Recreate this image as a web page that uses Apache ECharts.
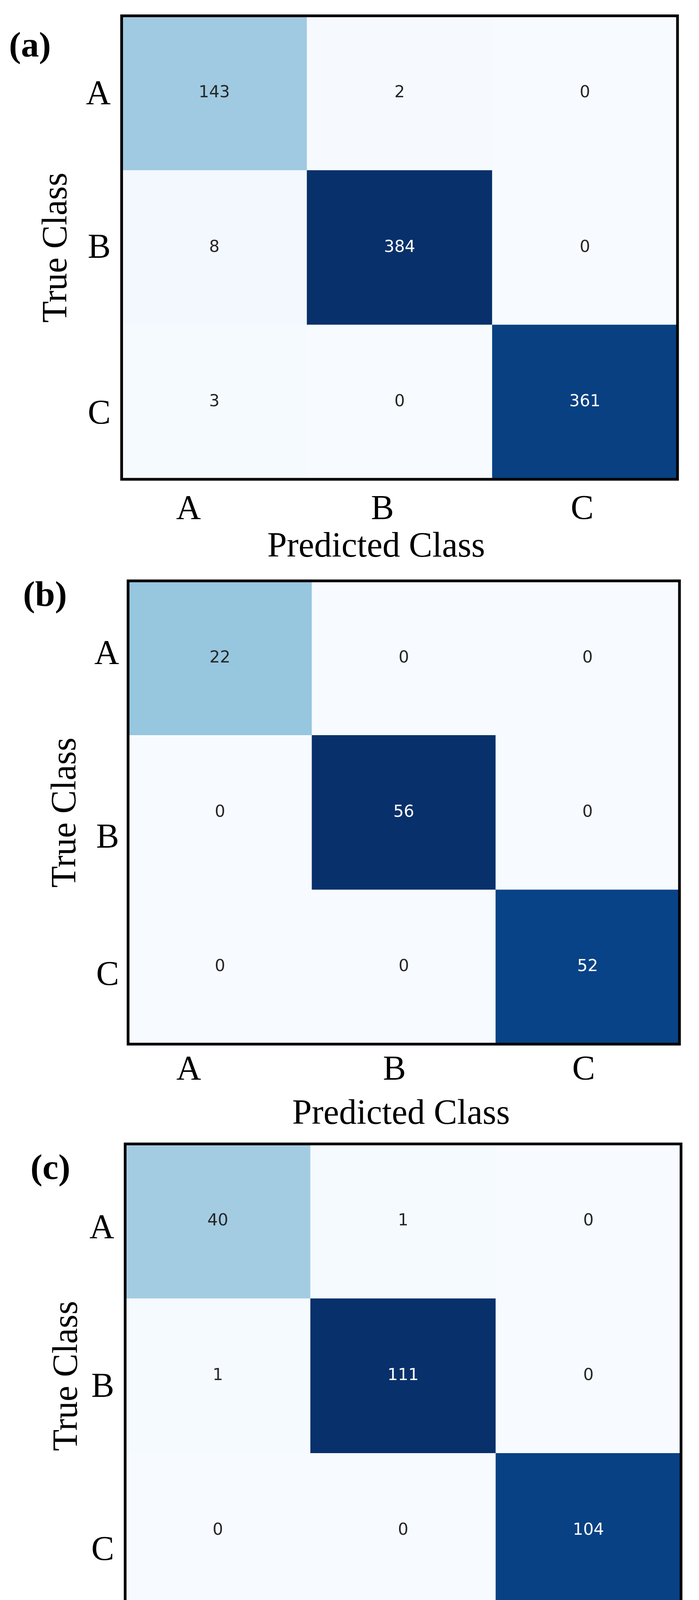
<!DOCTYPE html>
<html><head><meta charset="utf-8">
<script src="https://cdn.jsdelivr.net/npm/echarts@6/dist/echarts.min.js"></script>
<style>html,body{margin:0;padding:0;background:#fff}#chart{width:1790px;height:4359px}</style>
</head><body><div id="chart"></div>
<script>
// ---- data ----
const classes = ['A', 'B', 'C'];
const panelTags = ['a', 'b', 'c'];
const matrixA = [[143, 2, 0], [8, 384, 0], [3, 0, 361]];
const matrixB = [[22, 0, 0], [0, 56, 0], [0, 0, 52]];
const matrixC = [[40, 1, 0], [1, 111, 0], [0, 0, 104]];
const matrices = [matrixA, matrixB, matrixC];
const xAxisTitle = 'Predicted Class';
const yAxisTitle = 'True Class';

// ---- styles / layout ----
const blues = ['#f7fbff', '#deebf7', '#c6dbef', '#9ecae1', '#6baed6', '#4292c6', '#2171b5', '#08519c', '#08306b'];
const SERIF = 'Liberation Serif';
const layout = [
  { left: 311.5, top: 40.5, width: 1423.5, height: 1186.5, xShift: [-66, -44, -7], yShift: [5, 2, 32],
    xMargin: 34, yMargin: 28, nameShift: -60, xNameGap: 129, yNameGap: 120, tagLeft: 23, tagTop: 75 },
  { left: 328, top: 1487, width: 1412, height: 1186, xShift: [-80, -24, -10], yShift: [-9, 66, 23],
    xMargin: 23, yMargin: 23, nameShift: -7, xNameGap: 135, yNameGap: 114, tagLeft: 59, tagTop: 1481 },
  { left: 320.5, top: 2928.5, width: 1423.5, height: 1187.5, xShift: [-61, -35, 6], yShift: [19, 30, 52],
    xMargin: 34, yMargin: 28, nameShift: -12, xNameGap: 127, yNameGap: 90, tagLeft: 78, tagTop: 2948 }
];
function padX(d) { return [0, d < 0 ? -2 * d : 0, 0, d > 0 ? 2 * d : 0]; }
function padY(d) { return [d > 0 ? 2 * d : 0, 0, d < 0 ? -2 * d : 0, 0]; }
const tickFont = { fontFamily: SERIF, fontSize: 88, color: '#000' };

const option = { animation: false, backgroundColor: '#fff', title: [], grid: [], xAxis: [], yAxis: [], visualMap: [], series: [] };

matrices.forEach((m, i) => {
  const L = layout[i];
  const maxV = Math.max(...m.flat());
  option.title.push({
    text: '{p|(}{b|' + panelTags[i] + '}{p|)}', left: L.tagLeft, top: L.tagTop, padding: 0,
    textStyle: { rich: {
      p: { fontFamily: SERIF, fontSize: 92, lineHeight: 92, color: '#000' },
      b: { fontFamily: SERIF, fontSize: 92, lineHeight: 92, color: '#000', fontWeight: 'bold' }
    } }
  });
  option.grid.push({ left: L.left, top: L.top, width: L.width, height: L.height, show: true, z: 10,
    backgroundColor: 'rgba(0,0,0,0)', borderColor: '#000', borderWidth: 7 });
  const xRich = {}, yRich = {};
  classes.forEach((c, k) => {
    xRich['s' + k] = Object.assign({ padding: padX(L.xShift[k]) }, tickFont);
    yRich['s' + k] = Object.assign({ padding: padY(L.yShift[k]) }, tickFont);
  });
  const fmt = (v, idx) => '{s' + idx + '|' + v + '}';
  option.xAxis.push({
    type: 'category', gridIndex: i, position: 'bottom', data: classes,
    axisLine: { show: false }, axisTick: { show: false }, splitLine: { show: false },
    axisLabel: Object.assign({ margin: L.xMargin, formatter: fmt, rich: xRich }, tickFont),
    name: xAxisTitle, nameLocation: 'middle', nameGap: L.xNameGap,
    nameTextStyle: { fontFamily: SERIF, fontSize: 90, color: '#000', padding: padX(L.nameShift) }
  });
  option.yAxis.push({
    type: 'category', gridIndex: i, inverse: true, data: classes,
    axisLine: { show: false }, axisTick: { show: false }, splitLine: { show: false },
    axisLabel: Object.assign({ margin: L.yMargin, formatter: fmt, rich: yRich }, tickFont),
    name: yAxisTitle, nameLocation: 'middle', nameGap: L.yNameGap, nameRotate: 90,
    nameTextStyle: { fontFamily: SERIF, fontSize: 90, color: '#000' }
  });
  option.visualMap.push({ type: 'continuous', show: false, seriesIndex: i, dimension: 2,
    min: 0, max: maxV, inRange: { color: blues } });
  const data = [];
  m.forEach((row, r) => row.forEach((v, c) => {
    data.push({ value: [c, r, v], label: { color: v > maxV / 2 ? '#ffffff' : '#262626' } });
  }));
  option.series.push({
    type: 'heatmap', xAxisIndex: i, yAxisIndex: i, data: data,
    label: { show: true, fontFamily: 'DejaVu Sans', fontSize: 42 },
    emphasis: { disabled: true }, itemStyle: { borderWidth: 0 }
  });
});

const chart = echarts.init(document.getElementById('chart'), null, { renderer: 'canvas' });
chart.setOption(option);
</script></body></html>
